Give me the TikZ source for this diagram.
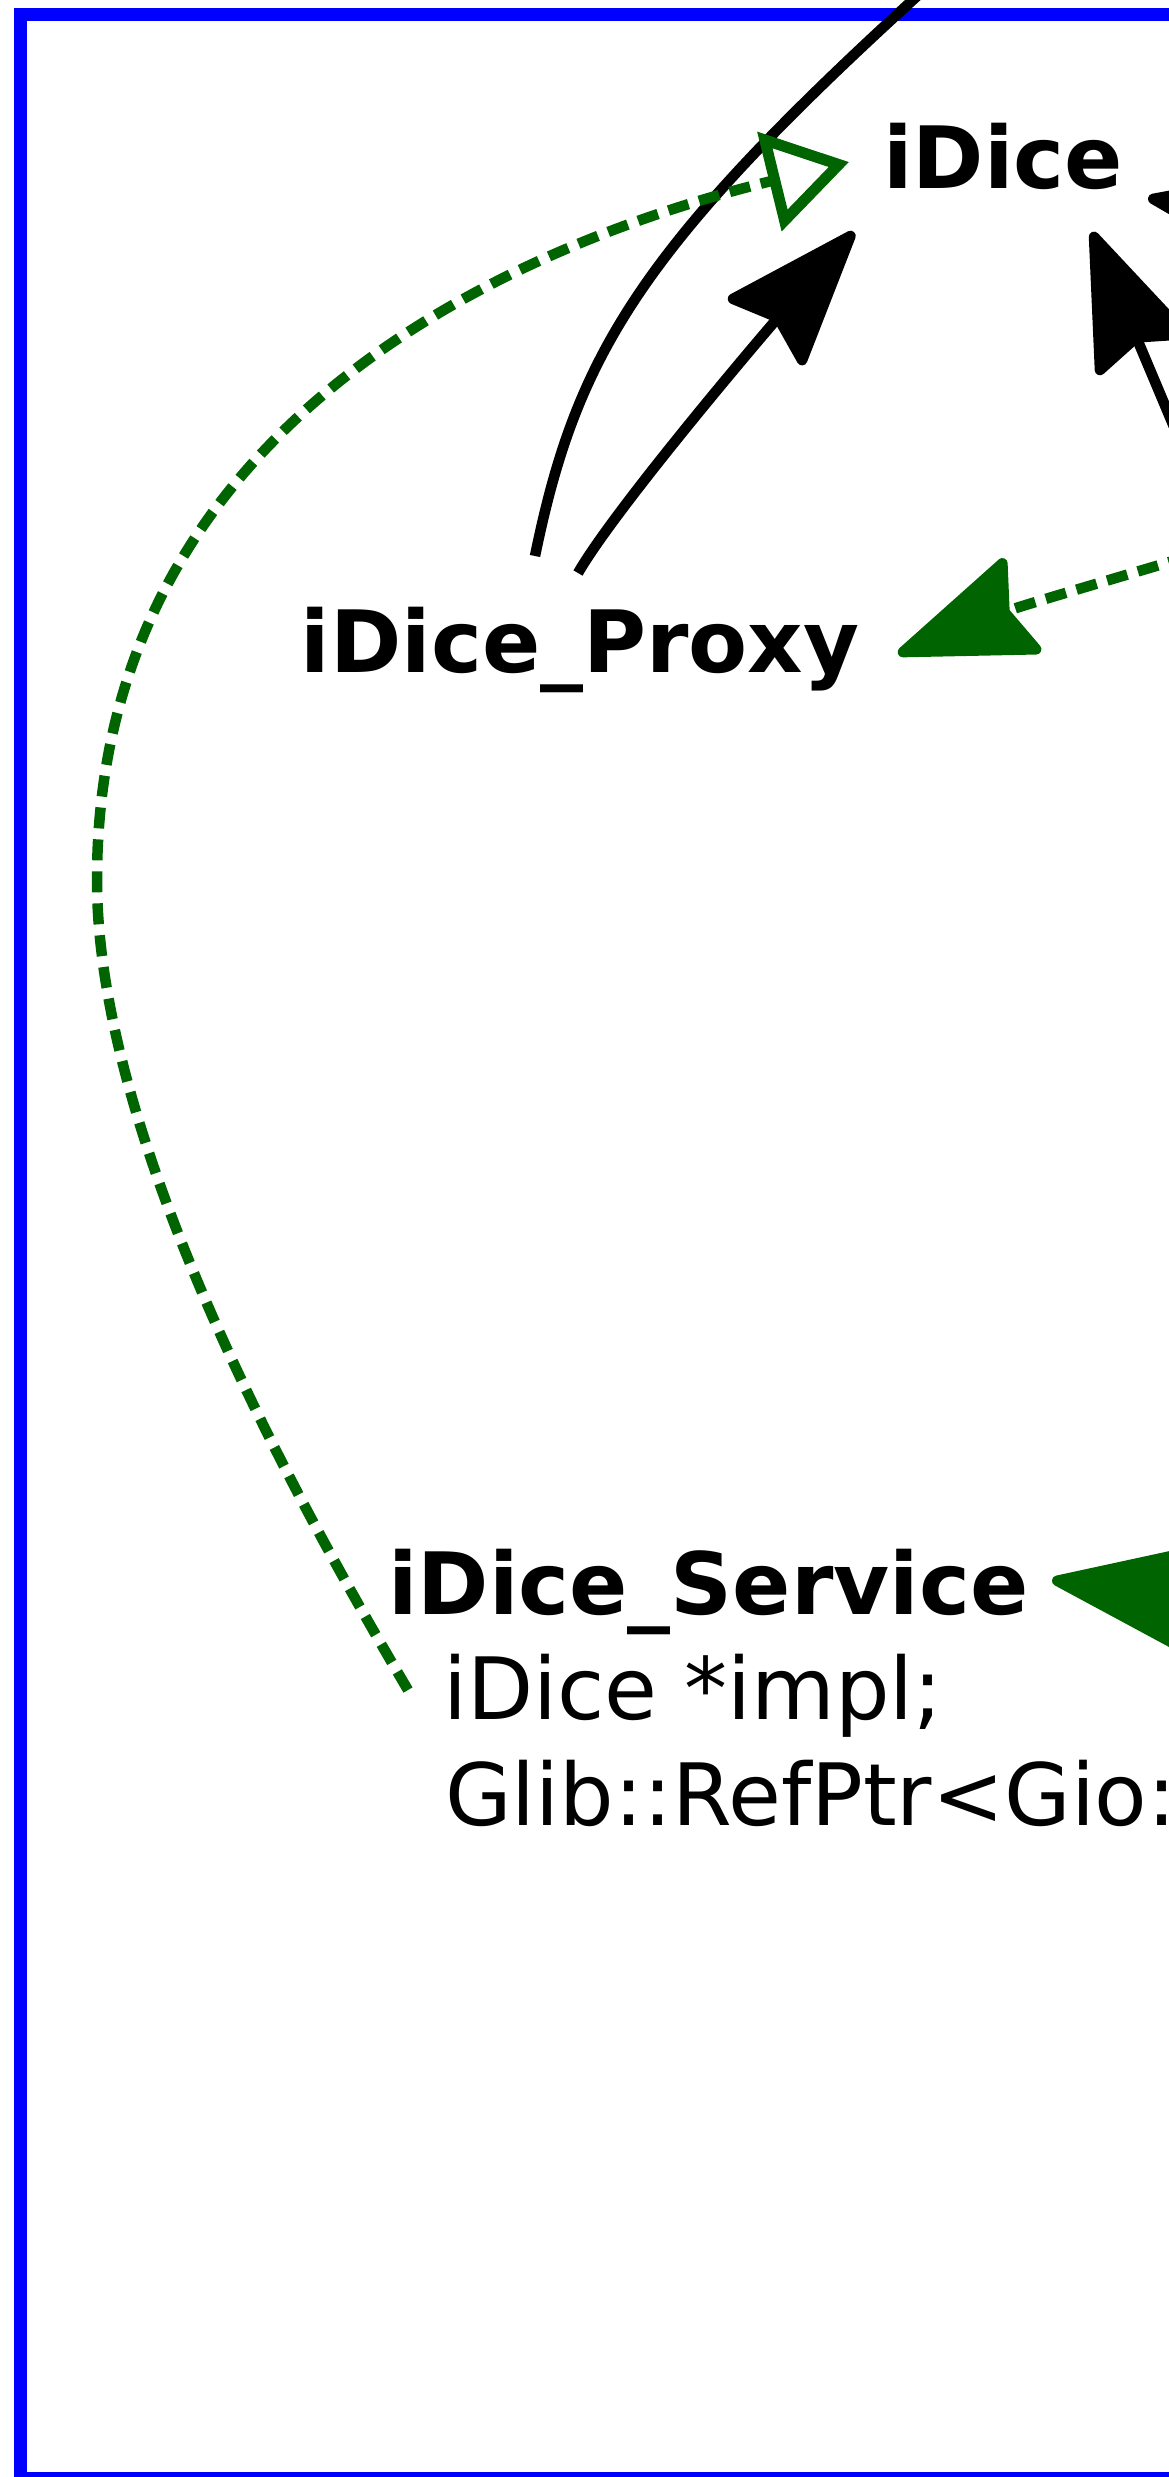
\documentclass[tikz,border=0pt]{standalone}
\usepackage{fontspec}
\setmainfont{DejaVu Sans}
\usetikzlibrary{arrows.meta,calc}
\definecolor{dgreen}{RGB}{0,100,0}
\begin{document}
\begin{tikzpicture}[x=1pt,y=-1pt,
  lbl/.style={inner sep=0pt, anchor=base west, font=\fontsize{86}{100}\selectfont},
  cls/.style={lbl, font=\fontsize{86}{100}\selectfont\bfseries},
  plainline/.style={draw=black, line width=10.5pt},
  assoc/.style={draw=black, line width=10.5pt, -{Stealth[length=148pt,width=108pt,inset=18pt,round]}},
  dep/.style={draw=dgreen, line width=10.5pt, dash pattern=on 21pt off 11pt, -{Stealth[length=148pt,width=108pt,inset=18pt,round]}},
  gen/.style={draw=dgreen, line width=10.5pt, dash pattern=on 21pt off 11pt, -{Triangle[open,length=82pt,width=100pt,line width=11pt]}}
]
\useasboundingbox (0,0) rectangle (1169,2477);
\clip (0,0) rectangle (1169,2477);
\draw[blue, line width=12.7pt] (20.3,14.7) rectangle (1400,2478);

\node[cls] (idice) at (883,188) {iDice};
\node[cls] (proxy) at (300.5,672) {iDice\_Proxy};
\node[cls] (svc) at (388,1614) {iDice\_Service};
\node[lbl] (impl) at (443,1719) {iDice *impl;};
\node[lbl] (conn) at (445,1825) {Glib::RefPtr<Gio:};

\coordinate (offtop) at (957,-40);
\coordinate (offA) at (1201,491);
\coordinate (offB) at (1345,232);
\coordinate (offC) at (1250,538);
\coordinate (offD) at (1250,1608);

% proxy -> upward (off picture)
\draw[plainline] ($(proxy.base west)+(234.5,-116)$) .. controls (578,347) and (644,241) .. (offtop);
% proxy -> iDice
\draw[assoc] ($(proxy.base west)+(277.5,-99)$) .. controls (616,507) and (768,329) .. ($(idice.base west)+(-29,44)$);
% service realizes iDice
\draw[gen] ($(svc.base west)+(20,76)$) .. controls (278,1470) and (97,1130) .. (97,880) .. controls (97,420) and (519,243) .. ($(idice.base west)+(-34,-26)$);
% dependency into proxy
\draw[dep] (offC) .. controls (1120,577) and (1020,606) .. ($(proxy.base west)+(597.5,-18)$);
% arrows into iDice from the right
\draw[assoc] (offA) -- ($(idice.base west)+(209,44)$);
\draw[assoc] (offB) -- ($(idice.base west)+(265,10)$);
% dependency into service
\draw[dep] (offD) -- ($(svc.base west)+(664,-34)$);
\end{tikzpicture}
\end{document}
